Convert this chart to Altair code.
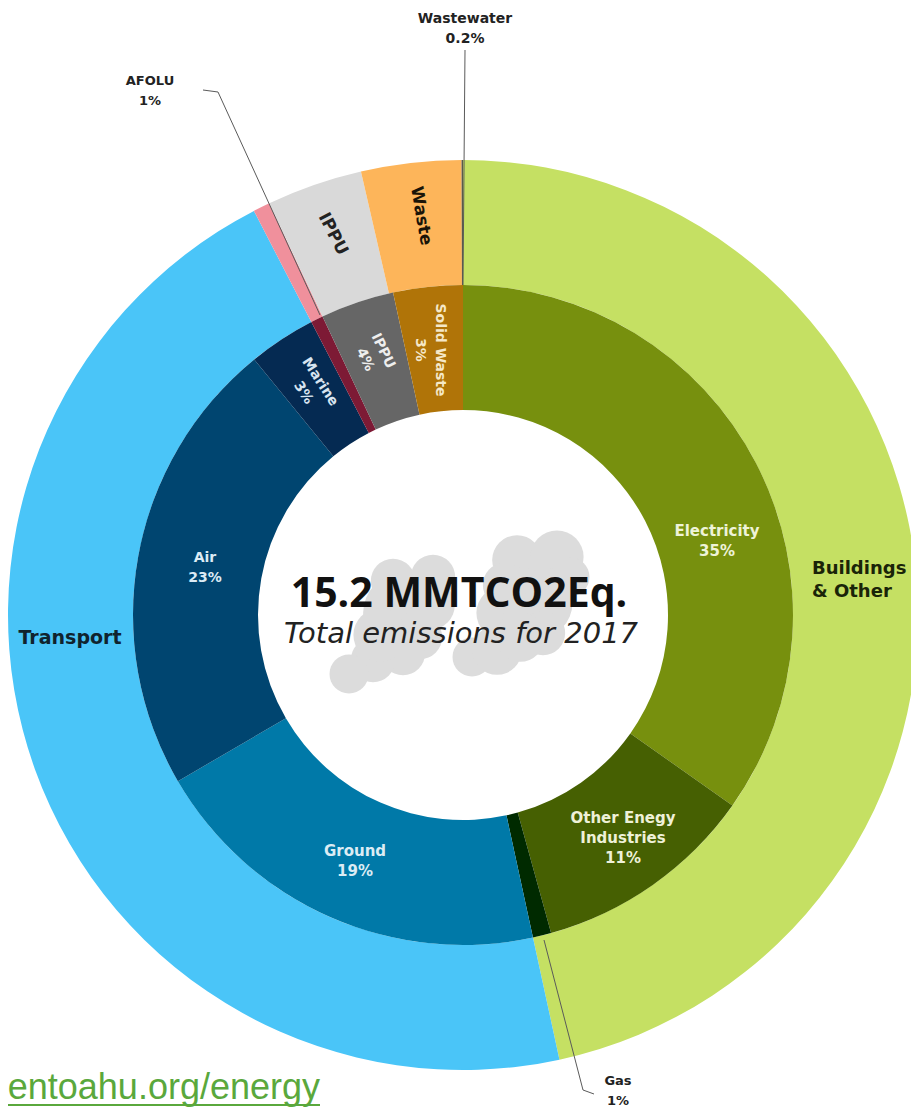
import altair as alt
import pandas as pd

# Ring values (percent of the circle)
outer_names = ["Buildings & Other", "Transport", "AFOLU", "IPPU", "Waste", "Wastewater"]
outer_values = [46.6, 45.8, 0.6, 3.4, 3.55, 0.05]
outer_colors = ["#c5e063", "#4ac5f8", "#f0909c", "#d9d9d9", "#fdb55a", "#5a5a4a"]

inner_names = ["Electricity", "Other Enegy Industries", "Gas", "Ground", "Air", "Marine", "AFOLU", "IPPU", "Solid Waste"]
inner_values = [34.8, 10.9, 0.9, 20.0, 22.5, 3.3, 0.6, 3.6, 3.4]
inner_colors = ["#77900e", "#466002", "#002a00", "#0079a8", "#004570", "#052a52", "#7d1a35", "#666666", "#b07408"]

W, H = 903, 1099
CX, CY = 455, 607

# Cloud decoration: page x, y, radius
cloud_x = [393, 433, 403, 420, 403, 373, 349, 430, 380, 517, 557, 570, 503, 537, 543, 472, 497, 520, 545, 505]
cloud_y = [581, 577, 613, 637, 653, 660, 674, 605, 635, 560, 557, 577, 613, 603, 633, 657, 650, 637, 590, 585]
cloud_r = [25, 25, 45, 25, 25, 25, 22, 28, 30, 28, 30, 22, 30, 40, 25, 22, 28, 28, 25, 25]

# Labels: text, page x, page y of the first line, angle, colour, size
lab_text = ["Wastewater\n0.2%", "AFOLU\n1%", "Gas\n1%",
            "Transport", "Electricity\n35%", "Air\n23%",
            "Other Enegy\nIndustries\n11%", "Ground\n19%",
            "Waste", "IPPU", "Solid Waste\n3%", "IPPU\n4%", "Marine\n3%"]
lab_x = [465, 150, 618, 70, 717, 205, 623, 355, 421, 333, 440, 383, 320]
lab_y = [19, 81, 1081, 638, 531, 558, 818, 851, 216, 234, 350, 351, 382]
lab_angle = [0, 0, 0, 0, 0, 0, 0, 0, 80, 63, 90, 64, 57]
lab_color = ["#222222", "#222222", "#222222", "#10232e", "#eef3d8", "#dcebf5", "#eef1d8",
             "#dcecf4", "#1a1408", "#222222", "#f5e8c8", "#eeeeee", "#d8e4f0"]
lab_size = [14, 13, 13, 19, 15, 14, 15, 15, 17, 17, 14, 14, 14]

# Leader lines: page coordinates of each segment
seg_x1 = [465, 203, 218, 544, 583]
seg_y1 = [50, 90, 92, 940, 1090]
seg_x2 = [463, 218, 320, 583, 594]
seg_y2 = [285, 92, 315, 1090, 1094]

def ring(names, values, colors):
    return pd.DataFrame({"name": names, "v": values, "c": colors, "i": range(len(names))})

def arc_layer(df, r_out, r_in):
    return alt.Chart(df).mark_arc(radius=r_out, radius2=r_in).encode(
        theta=alt.Theta("v:Q", stack=True, scale=alt.Scale(domain=[0, 100])),
        order=alt.Order("i:Q"),
        color=alt.Color("c:N", scale=None),
        x=alt.value(CX),
        y=alt.value(CY),
    )

px = lambda f: alt.X(f, scale=None, axis=None)
py = lambda f: alt.Y(f, scale=None, axis=None)

clouds = pd.DataFrame({"x": [v - 8 for v in cloud_x], "y": [v - 8 for v in cloud_y],
                       "s": [3.14159 * r * r for r in cloud_r]})
cloud_layer = alt.Chart(clouds).mark_point(filled=True, shape="circle", opacity=1, color="#dcdcdc").encode(
    x=px("x:Q"), y=py("y:Q"), size=alt.Size("s:Q", scale=None))

segs = pd.DataFrame({"x": [v - 8 for v in seg_x1], "y": [v - 8 for v in seg_y1],
                     "x2": [v - 8 for v in seg_x2], "y2": [v - 8 for v in seg_y2]})
seg_layer = alt.Chart(segs).mark_rule(color="#5a5a5a", strokeWidth=1).encode(
    x=px("x:Q"), y=py("y:Q"), x2="x2:Q", y2="y2:Q")

labs = pd.DataFrame({"t": lab_text, "x": [v - 8 for v in lab_x], "y": [v - 8 for v in lab_y],
                     "a": lab_angle, "c": lab_color, "s": lab_size})
lab_layer = alt.Chart(labs).mark_text(font="DejaVu Sans", fontWeight="bold", lineBreak="\n",
                                      baseline="middle", align="center", lineHeight=20).encode(
    x=px("x:Q"), y=py("y:Q"), text="t:N",
    angle=alt.Angle("a:Q", scale=None),
    color=alt.Color("c:N", scale=None),
    size=alt.Size("s:Q", scale=None))

# Left-aligned outer label
b_layer = alt.Chart(pd.DataFrame({"t": ["Buildings\n& Other"], "x": [804], "y": [561]})).mark_text(
    font="DejaVu Sans", fontWeight="bold", fontSize=18, lineBreak="\n", lineHeight=23,
    align="left", baseline="middle", color="#1a2408").encode(x=px("x:Q"), y=py("y:Q"), text="t:N")

title_layer = alt.Chart(pd.DataFrame({"t": ["15.2 MMTCO2Eq."], "x": [451], "y": [587]})).mark_text(
    font="Open Sans", fontWeight="bold", fontSize=41, align="center", baseline="middle", color="#111111"
).encode(x=px("x:Q"), y=py("y:Q"), text="t:N")

sub_layer = alt.Chart(pd.DataFrame({"t": ["Total emissions for 2017"], "x": [453], "y": [626]})).mark_text(
    font="DejaVu Sans", fontStyle="italic", fontSize=29, align="center", baseline="middle", color="#222222"
).encode(x=px("x:Q"), y=py("y:Q"), text="t:N")

url_layer = alt.Chart(pd.DataFrame({"t": ["entoahu.org/energy"], "x": [312], "y": [1091]})).mark_text(
    font="Liberation Sans", fontSize=36, align="right", baseline="alphabetic", color="#5aa83c"
).encode(x=px("x:Q"), y=py("y:Q"), text="t:N")

url_rule = alt.Chart(pd.DataFrame({"x": [0], "x2": [312], "y": [1097]})).mark_rule(
    color="#5aa83c", strokeWidth=2).encode(x=px("x:Q"), x2="x2:Q", y=py("y:Q"))

chart = alt.layer(
    arc_layer(ring(outer_names, outer_values, outer_colors), 455, 330),
    arc_layer(ring(inner_names, inner_values, inner_colors), 330, 205),
    cloud_layer, seg_layer, lab_layer, b_layer, title_layer, sub_layer, url_layer, url_rule,
).resolve_scale(theta="shared").properties(
    width=W, height=H, padding=0, autosize=alt.AutoSizeParams(type="none"),
).configure_view(stroke=None)

chart.save("out.html", embed_options={"renderer": "svg", "actions": False})
